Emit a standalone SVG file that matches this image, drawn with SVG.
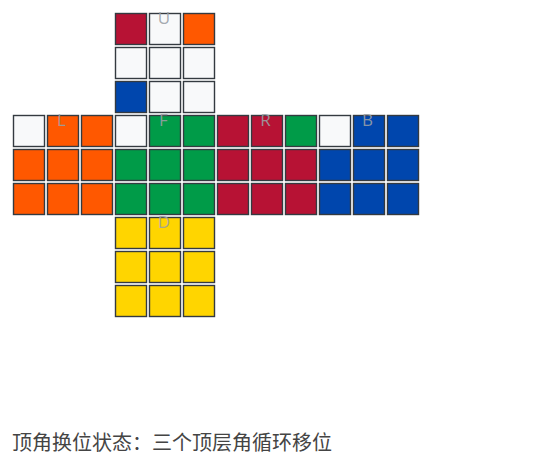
<svg xmlns="http://www.w3.org/2000/svg" width="534" height="466" viewBox="0 0 534 466">
<style>
rect.s{stroke:#343a40;stroke-width:1.4}
.W{fill:#f8f9fa}.R{fill:#b71234}.O{fill:#ff5800}.B{fill:#0046ad}.G{fill:#009b48}.Y{fill:#ffd500}
text.lab{font-family:"Open Sans","Noto Sans",sans-serif;font-size:17px;fill:#9aa0a6;fill-opacity:0.9;text-anchor:middle}
text.cap{font-family:"Noto Sans CJK SC","Noto Sans",sans-serif;font-size:20px;fill:#444}
</style>
<rect width="534" height="466" fill="#ffffff"/>
<g id="face-U">
<rect class="s R" x="115.5" y="13.5" width="31" height="31"/>
<rect class="s W" x="149.5" y="13.5" width="31" height="31"/>
<rect class="s O" x="183.5" y="13.5" width="31" height="31"/>
<rect class="s W" x="115.5" y="47.5" width="31" height="31"/>
<rect class="s W" x="149.5" y="47.5" width="31" height="31"/>
<rect class="s W" x="183.5" y="47.5" width="31" height="31"/>
<rect class="s B" x="115.5" y="81.5" width="31" height="31"/>
<rect class="s W" x="149.5" y="81.5" width="31" height="31"/>
<rect class="s W" x="183.5" y="81.5" width="31" height="31"/>
<text class="lab" x="164" y="24">U</text>
</g>
<g id="face-L">
<rect class="s W" x="13.5" y="115.5" width="31" height="31"/>
<rect class="s O" x="47.5" y="115.5" width="31" height="31"/>
<rect class="s O" x="81.5" y="115.5" width="31" height="31"/>
<rect class="s O" x="13.5" y="149.5" width="31" height="31"/>
<rect class="s O" x="47.5" y="149.5" width="31" height="31"/>
<rect class="s O" x="81.5" y="149.5" width="31" height="31"/>
<rect class="s O" x="13.5" y="183.5" width="31" height="31"/>
<rect class="s O" x="47.5" y="183.5" width="31" height="31"/>
<rect class="s O" x="81.5" y="183.5" width="31" height="31"/>
<text class="lab" x="61.5" y="126">L</text>
</g>
<g id="face-F">
<rect class="s W" x="115.5" y="115.5" width="31" height="31"/>
<rect class="s G" x="149.5" y="115.5" width="31" height="31"/>
<rect class="s G" x="183.5" y="115.5" width="31" height="31"/>
<rect class="s G" x="115.5" y="149.5" width="31" height="31"/>
<rect class="s G" x="149.5" y="149.5" width="31" height="31"/>
<rect class="s G" x="183.5" y="149.5" width="31" height="31"/>
<rect class="s G" x="115.5" y="183.5" width="31" height="31"/>
<rect class="s G" x="149.5" y="183.5" width="31" height="31"/>
<rect class="s G" x="183.5" y="183.5" width="31" height="31"/>
<text class="lab" x="163.5" y="126">F</text>
</g>
<g id="face-R">
<rect class="s R" x="217.5" y="115.5" width="31" height="31"/>
<rect class="s R" x="251.5" y="115.5" width="31" height="31"/>
<rect class="s G" x="285.5" y="115.5" width="31" height="31"/>
<rect class="s R" x="217.5" y="149.5" width="31" height="31"/>
<rect class="s R" x="251.5" y="149.5" width="31" height="31"/>
<rect class="s R" x="285.5" y="149.5" width="31" height="31"/>
<rect class="s R" x="217.5" y="183.5" width="31" height="31"/>
<rect class="s R" x="251.5" y="183.5" width="31" height="31"/>
<rect class="s R" x="285.5" y="183.5" width="31" height="31"/>
<text class="lab" x="265.5" y="126">R</text>
</g>
<g id="face-B">
<rect class="s W" x="319.5" y="115.5" width="31" height="31"/>
<rect class="s B" x="353.5" y="115.5" width="31" height="31"/>
<rect class="s B" x="387.5" y="115.5" width="31" height="31"/>
<rect class="s B" x="319.5" y="149.5" width="31" height="31"/>
<rect class="s B" x="353.5" y="149.5" width="31" height="31"/>
<rect class="s B" x="387.5" y="149.5" width="31" height="31"/>
<rect class="s B" x="319.5" y="183.5" width="31" height="31"/>
<rect class="s B" x="353.5" y="183.5" width="31" height="31"/>
<rect class="s B" x="387.5" y="183.5" width="31" height="31"/>
<text class="lab" x="367.5" y="126">B</text>
</g>
<g id="face-D">
<rect class="s Y" x="115.5" y="217.5" width="31" height="31"/>
<rect class="s Y" x="149.5" y="217.5" width="31" height="31"/>
<rect class="s Y" x="183.5" y="217.5" width="31" height="31"/>
<rect class="s Y" x="115.5" y="251.5" width="31" height="31"/>
<rect class="s Y" x="149.5" y="251.5" width="31" height="31"/>
<rect class="s Y" x="183.5" y="251.5" width="31" height="31"/>
<rect class="s Y" x="115.5" y="285.5" width="31" height="31"/>
<rect class="s Y" x="149.5" y="285.5" width="31" height="31"/>
<rect class="s Y" x="183.5" y="285.5" width="31" height="31"/>
<text class="lab" x="164" y="228">D</text>
</g>
<g id="connectors"></g>
<g id="caption">
<text class="cap" x="12" y="450">顶角换位状态：三个顶层角循环移位</text>
</g>
</svg>
